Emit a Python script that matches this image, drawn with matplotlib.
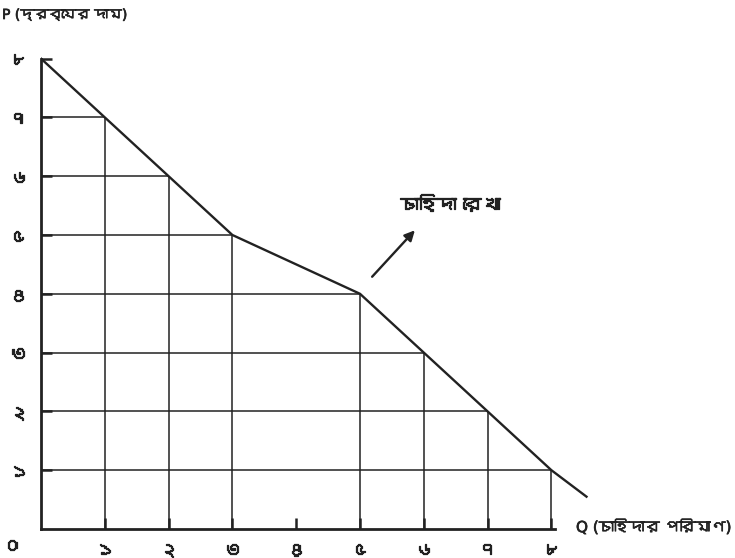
import matplotlib
matplotlib.use("Agg")
import matplotlib.pyplot as plt
from matplotlib import font_manager
import matplotlib.patheffects as pe

# ---------------- data ----------------
quantity = [0, 1, 2, 3, 5, 6, 7, 8]          # demand schedule Q
price = [8, 7, 6, 5, 4, 3, 2, 1]             # demand schedule P
tail_q = [8.55]                               # curve continues past last point
tail_p = [0.55]
x_ticks = [1, 2, 3, 4, 5, 6, 7, 8]
x_tick_labels = ["১", "২", "৩", "৪", "৫", "৬", "৭", "৮"]
y_ticks = [1, 2, 3, 4, 5, 6, 7, 8]
y_tick_labels = ["১", "২", "৩", "৪", "৫", "৬", "৭", "৮"]
origin_label = "০"
y_title = "P (দ্রব্যের দাম)"
x_title = "Q (চাহিদার পরিমাণ)"
curve_label = "চাহিদা রেখা"

# ---------------- font with Bengali glyphs if any ----------------
def find_font(sample):
    try:
        from fontTools.ttLib import TTFont
    except Exception:
        return None
    for f in font_manager.fontManager.ttflist:
        try:
            tt = TTFont(f.fname, fontNumber=0, lazy=True)
            cmap = tt.getBestCmap()
            if cmap and all(ord(c) in cmap for c in sample):
                return f.name
        except Exception:
            continue
    return None

bn = find_font("দ্রব্যেরচাহিদাপরিমাণ০১২৩৪৫৬৭৮")
families = ["DejaVu Sans"] + ([bn] if bn else [])
plt.rcParams["font.family"] = families

ink = "#222222"
thick = [pe.withStroke(linewidth=0.9, foreground=ink)]
light = [pe.withStroke(linewidth=0.5, foreground=ink)]
W, H = 735, 558
fig = plt.figure(figsize=(W / 100, H / 100), dpi=100)
fig.patch.set_facecolor("white")

px_x, px_y = 63.8, 58.8
x0_px, y0_px = 41, 529
xmax, ymax = 8.7, 8.3
ax = fig.add_axes([x0_px / W, (H - y0_px) / H, xmax * px_x / W, ymax * px_y / H])
ax.set_xlim(0, xmax)
ax.set_ylim(0, ymax)
ax.set_facecolor("white")

# guide lines from axes to each schedule point
for q, p in zip(quantity, price):
    if q == 0:
        continue
    ax.plot([0, q], [p, p], color=ink, lw=1.1, solid_capstyle="butt")
    ax.plot([q, q], [0, p], color=ink, lw=1.1, solid_capstyle="butt")

# demand curve
ax.plot(quantity + tail_q, price + tail_p, color=ink, lw=1.7,
        solid_joinstyle="round")

# arrow and label
ax.annotate("", xy=(5.86, 5.08), xytext=(5.19, 4.29),
            arrowprops=dict(arrowstyle="-|>", color=ink, lw=1.7,
                            mutation_scale=15, shrinkA=0, shrinkB=0))
lbl = ax.text(6.41, 5.51, curve_label, ha="center", va="center",
              fontsize=12, color=ink, fontweight="bold", path_effects=thick)

# spines
for s in ["top", "right"]:
    ax.spines[s].set_visible(False)
ax.spines["left"].set_bounds(0, 8)
ax.spines["bottom"].set_bounds(0, 8.05)
for s in ["left", "bottom"]:
    ax.spines[s].set_linewidth(2.0)
    ax.spines[s].set_color(ink)

ax.set_xticks(x_ticks)
ax.set_xticklabels(x_tick_labels)
ax.set_yticks(y_ticks)
ax.set_yticklabels(y_tick_labels)
ax.tick_params(axis="both", direction="in", length=8, width=1.8,
               color=ink, labelsize=13, labelcolor=ink)
ax.tick_params(axis="x", pad=9)
ax.tick_params(axis="y", pad=10)
for t in ax.get_xticklabels() + ax.get_yticklabels():
    t.set_fontweight("bold")
    t.set_path_effects(thick)

org = fig.text(12 / W, 1 - 546 / H, origin_label, ha="center", va="center",
               fontsize=13, color=ink, fontweight="bold", path_effects=thick)
ptitle = fig.text(2 / W, 1 - 15 / H, y_title, ha="left", va="center",
                  fontsize=13, color=ink, path_effects=light)
qtitle = fig.text(576 / W, 1 - 527 / H, x_title, ha="left", va="center",
                  fontsize=13, color=ink, path_effects=light)


def fit_width(text, target_px):
    fig.canvas.draw()
    r = fig.canvas.get_renderer()
    w = text.get_window_extent(r).width
    if w > 0:
        text.set_fontsize(text.get_fontsize() * target_px / w)


fit_width(ptitle, 125)
fit_width(qtitle, 155)
fit_width(lbl, 100)

fig.savefig("out.png", dpi=100, facecolor="white")
